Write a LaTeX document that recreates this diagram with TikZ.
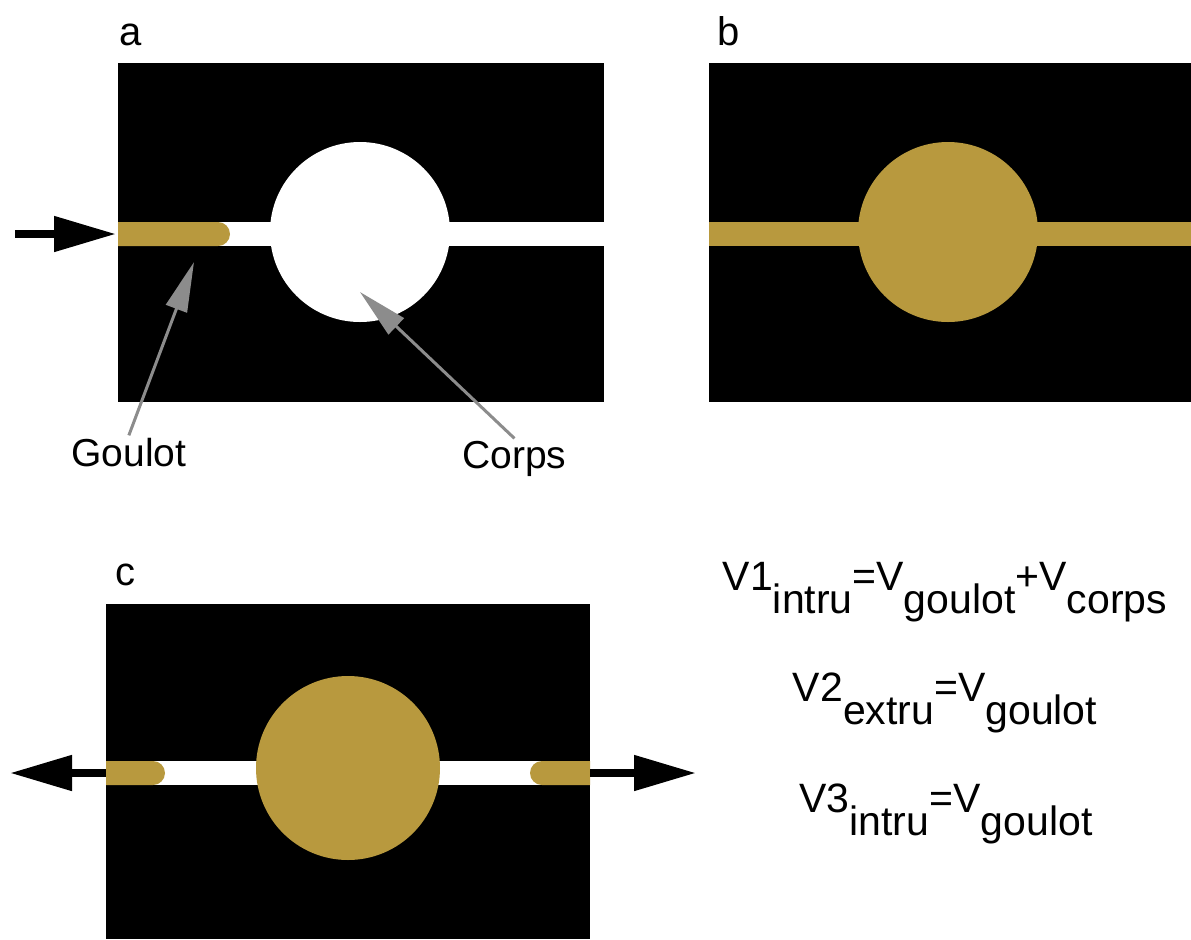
\documentclass[tikz,border=0pt]{standalone}
\usepackage{fontspec}
\setmainfont{Liberation Sans}
\usetikzlibrary{arrows.meta}
\definecolor{goldfill}{HTML}{B8993E}
\definecolor{pointgray}{HTML}{8C8C8C}
\newcommand{\lowtxt}[1]{\raisebox{-11.5pt}{#1}}

\begin{document}
\begin{tikzpicture}[x=0.5pt,y=-0.5pt,
  panel/.style={fill=black},
  bore/.style={fill=white},
  resin/.style={fill=goldfill},
  partname/.style={anchor=base west, inner sep=0pt, font=\fontsize{20}{24}\selectfont},
  tagname/.style={anchor=base west, inner sep=1pt, font=\fontsize{19.5}{23}\selectfont},
  eqn/.style={anchor=base, inner sep=0pt, font=\fontsize{20.5}{24}\selectfont},
  flow/.style={line width=4pt, -{Triangle[length=31pt,width=17pt]}},
  pointer/.style={draw=pointgray, line width=1.5pt, -{Triangle[length=25pt,width=11pt]}}]
\useasboundingbox (0,0) rectangle (1191,939);
% panel a
\node[partname] (tagA) at (119,45) {a};
\fill[panel] (118,63) rectangle (604,402);
\fill[bore] (218,222) rectangle (604,246);
\fill[bore] (360,232) circle[radius=90];
\fill[resin] (118,222) -- (218,222) arc[start angle=-90, end angle=90, radius=12] -- (118,246) -- cycle;
\coordinate (inA) at (15,234);
\coordinate (inB) at (116,234);
\draw[flow] (inA) -- (inB);
\node[tagname] (goulot) at (69,466) {Goulot};
\node[tagname] (corps) at (460,468) {Corps};
\coordinate (goulottip) at (194,262);
\coordinate (corpstip) at (360,292);
\draw[pointer] (goulot.north) -- (goulottip);
\draw[pointer] (corps.north) -- (corpstip);
% panel b
\node[partname] (tagB) at (717,45) {b};
\fill[panel] (709,63) rectangle (1191,402);
\fill[resin] (709,222) rectangle (1191,246);
\fill[resin] (948,232) circle[radius=90];
% panel c
\node[partname] (tagC) at (115,585) {c};
\fill[panel] (106,604) rectangle (590,939);
\fill[bore] (106,761) rectangle (590,785);
\fill[resin] (348,768) circle[radius=92];
\fill[resin] (106,761) -- (153,761) arc[start angle=-90, end angle=90, radius=12] -- (106,785) -- cycle;
\fill[resin] (590,761) -- (542,761) arc[start angle=270, end angle=90, radius=12] -- (590,785) -- cycle;
\coordinate (outL0) at (106,773);
\coordinate (outL1) at (10,773);
\coordinate (outR0) at (590,773);
\coordinate (outR1) at (696,773);
\draw[flow] (outL0) -- (outL1);
\draw[flow] (outR0) -- (outR1);
% volumes
\node[eqn] (eqone) at (945,590) {V1\lowtxt{intru}=V\lowtxt{goulot}+V\lowtxt{corps}};
\node[eqn] (eqtwo) at (945,701) {V2\lowtxt{extru}=V\lowtxt{goulot}};
\node[eqn] (eqthree) at (946,812) {V3\lowtxt{intru}=V\lowtxt{goulot}};
\end{tikzpicture}
\end{document}
